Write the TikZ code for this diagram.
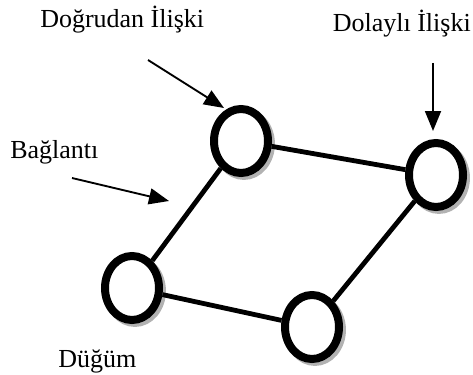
\documentclass[tikz,border=0pt]{standalone}
\usepackage{fontspec}
\setmainfont{Liberation Serif}
\usetikzlibrary{arrows.meta,shadows,shapes.geometric}

\begin{document}
\begin{tikzpicture}[
            x=0.75pt, y=-0.75pt,
            every node/.style={font=\fontsize{19.5}{23}\selectfont},
            dugum/.style={ellipse, draw=black, fill=white, line width=6pt,
                inner sep=0pt, minimum width=40.5pt, minimum height=48pt,
                general shadow={draw=black!30, line width=6pt,
                    shadow xshift=2.2pt, shadow yshift=-2.2pt}},
            baglanti/.style={line width=3.6pt},
            ok/.style={-{Triangle[length=15pt, width=12pt]}, line width=1.4pt},
        ]
            \useasboundingbox (0, 0) rectangle (473, 374);
            \node[dugum] (a) at (241, 141) {};
            \node[dugum] (b) at (436, 175) {};
            \node[dugum] (c) at (132, 288) {};
            \node[dugum] (d) at (312, 327) {};
            \draw[baglanti] (a) -- (b);
            \draw[baglanti] (a) -- (c);
            \draw[baglanti] (c) -- (d);
            \draw[baglanti] (d) -- (b);
            % etiketler
            \node[anchor=base west, inner sep=0pt] (dogrudan) at (40, 28) {Doğrudan İlişki};
            \node[anchor=base east, inner sep=0pt] (dolayli) at (471, 32) {Dolaylı İlişki};
            \node[anchor=base west, inner sep=0pt] (bag) at (10, 158) {Bağlantı};
            \node[anchor=base west, inner sep=0pt] (dug) at (58, 367) {Düğüm};
            % oklar
            \coordinate (d1) at (148, 60);
            \coordinate (d2) at (224, 108);
            \coordinate (l1) at (433, 63);
            \coordinate (l2) at (433, 131);
            \coordinate (b1) at (72, 178);
            \coordinate (b2) at (169, 201);
            \draw[ok] (d1) -- (d2);
            \draw[ok] (l1) -- (l2);
            \draw[ok] (b1) -- (b2);
        \end{tikzpicture}
\end{document}
